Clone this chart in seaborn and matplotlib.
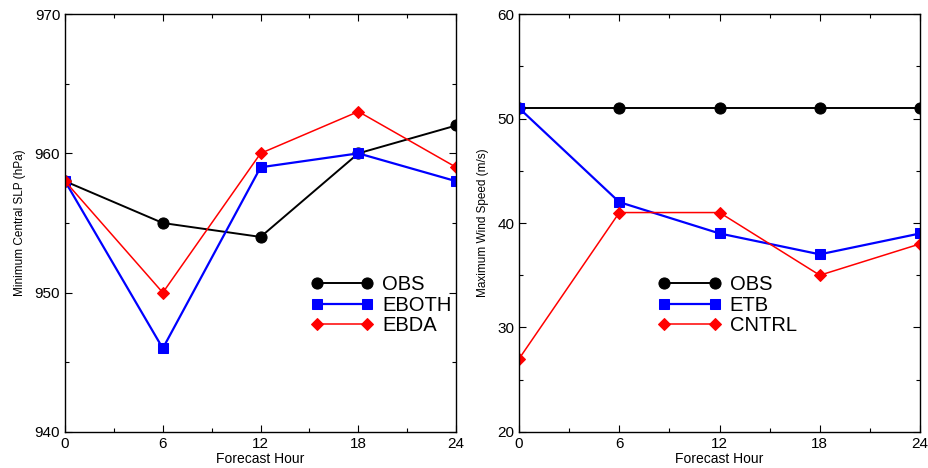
import matplotlib
matplotlib.use("Agg")
import matplotlib.pyplot as plt
import seaborn as sns
from matplotlib.ticker import MultipleLocator

# forecast hours
hours = [0, 6, 12, 18, 24]

# minimum central SLP (hPa)
slp_obs = [958, 955, 954, 960, 962]
slp_eboth = [958, 946, 959, 960, 958]
slp_ebda = [958, 950, 960, 963, 959]

# maximum wind speed (m/s)
wind_obs = [51, 51, 51, 51, 51]
wind_etb = [51, 42, 39, 37, 39]
wind_cntrl = [27, 41, 41, 35, 38]

sns.set_style("ticks")
plt.rcParams['font.family'] = ['Liberation Sans', 'DejaVu Sans']
plt.rcParams['text.color'] = 'black'
plt.rcParams['axes.labelcolor'] = 'black'
plt.rcParams['xtick.color'] = 'black'
plt.rcParams['ytick.color'] = 'black'

fig = plt.figure(figsize=(9.29, 4.68), dpi=100)
ax1 = fig.add_axes([0.070, 0.077, 0.421, 0.893])
ax2 = fig.add_axes([0.5587, 0.077, 0.4317, 0.893])


def draw_panel(ax, obs, s1, s2, names):
    sns.lineplot(x=hours, y=obs, ax=ax, color='black', marker='o', markersize=8,
                 markeredgecolor='black', linewidth=1.4, label=names[0])
    sns.lineplot(x=hours, y=s1, ax=ax, color='blue', marker='s', markersize=7,
                 markeredgecolor='blue', linewidth=1.6, label=names[1])
    sns.lineplot(x=hours, y=s2, ax=ax, color='red', marker='D', markersize=6,
                 markeredgecolor='red', linewidth=1.1, label=names[2])
    ax.set_xlim(0, 24)
    ax.xaxis.set_major_locator(MultipleLocator(6))
    ax.xaxis.set_minor_locator(MultipleLocator(3))
    ax.tick_params(which='both', direction='in', top=True, right=True,
                   labelsize=11, width=0.8)
    ax.tick_params(which='major', length=5)
    ax.tick_params(which='minor', length=3)
    ax.set_xlabel('Forecast Hour', fontsize=10, labelpad=1)
    for sp in ax.spines.values():
        sp.set_linewidth(1.0)
        sp.set_color('black')


def add_legend(ax, x0):
    ax.legend(loc='center left', bbox_to_anchor=(x0, 0.303), frameon=False,
              fontsize=14.5, handlelength=3.1, handletextpad=0.45,
              labelspacing=0.08, borderpad=0, numpoints=2)


draw_panel(ax1, slp_obs, slp_eboth, slp_ebda, ['OBS', 'EBOTH', 'EBDA'])
ax1.set_ylim(940, 970)
ax1.yaxis.set_major_locator(MultipleLocator(10))
ax1.yaxis.set_minor_locator(MultipleLocator(5))
ax1.set_ylabel('Minimum Central SLP (hPa)', fontsize=8.5, labelpad=6)
add_legend(ax1, 0.603)

draw_panel(ax2, wind_obs, wind_etb, wind_cntrl, ['OBS', 'ETB', 'CNTRL'])
ax2.set_ylim(20, 60)
ax2.yaxis.set_major_locator(MultipleLocator(10))
ax2.yaxis.set_minor_locator(MultipleLocator(5))
ax2.set_ylabel('Maximum Wind Speed (m/s)', fontsize=8.5, labelpad=6)
add_legend(ax2, 0.322)

fig.savefig('out.png', dpi=100)
